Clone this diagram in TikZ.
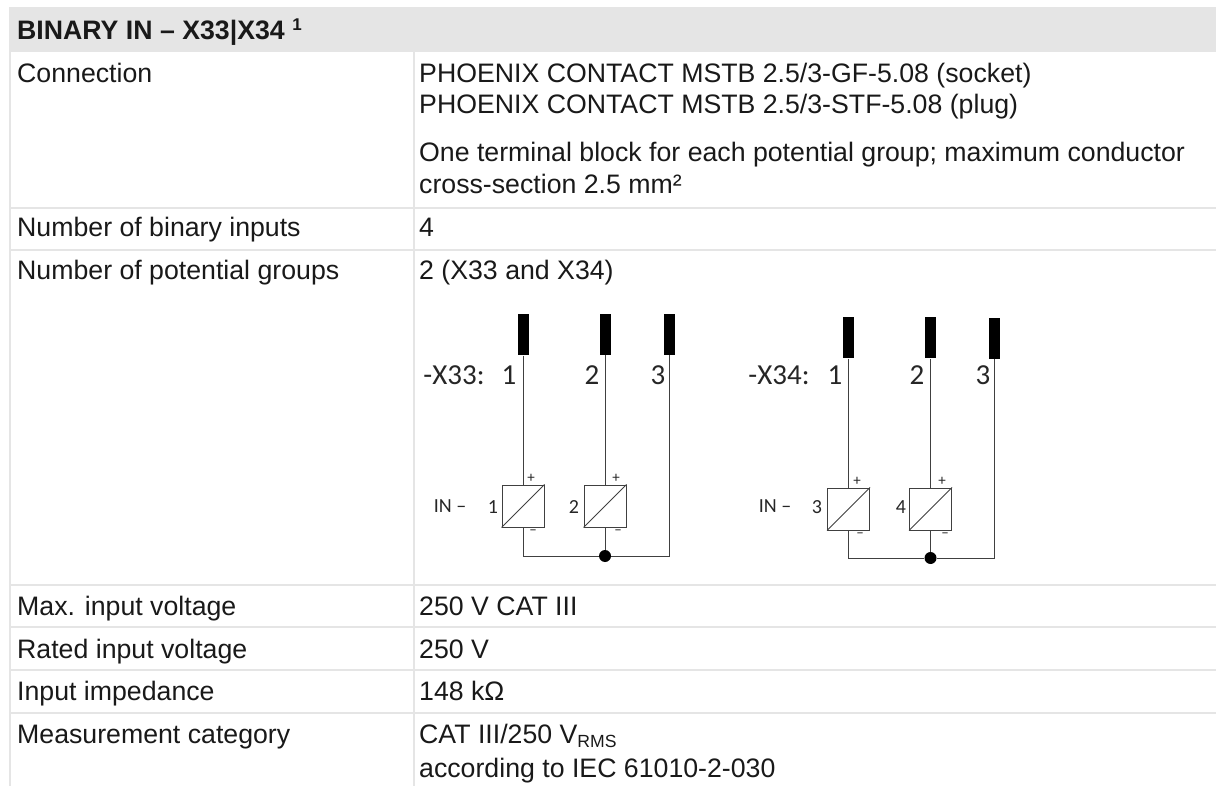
\documentclass[tikz,border=0pt]{standalone}
\usepackage{fontspec}
\setmainfont{Liberation Sans}
\newfontfamily\schemfont{Carlito}
\tikzset{
  txt/.style={anchor=base west, inner sep=0, yshift=-1pt, font=\fontsize{26.7}{30}\selectfont, text=black!90},
  grid/.style={draw=black!10, line width=2},
  contact/.style={fill=black, inner sep=0, minimum width=11, minimum height=41},
  wire/.style={draw=black!75, line width=1},
  inbox/.style={draw=black!75, line width=1, inner sep=0, minimum size=42},
  junction/.style={circle, fill=black, inner sep=0, minimum size=12},
  pin/.style={font=\schemfont\fontsize{29}{29}\selectfont, inner sep=0, text=black!85},
  small/.style={font=\schemfont\fontsize{20}{20}\selectfont, inner sep=0, text=black!85},
  sign/.style={font=\schemfont\fontsize{15}{15}\selectfont, inner sep=0, text=black!85}
}
\begin{document}
\begin{tikzpicture}[x=1pt, y=-1pt]
\useasboundingbox (0, 0) rectangle (1216, 786);
\fill[black!10] (9, 7) rectangle (1216, 52);
\draw[grid] (10, 52) -- (10, 786);
\draw[grid] (414, 52) -- (414, 786);
\draw[grid] (10, 208) -- (1216, 208);
\draw[grid] (10, 250) -- (1216, 250);
\draw[grid] (10, 585) -- (1216, 585);
\draw[grid] (10, 627) -- (1216, 627);
\draw[grid] (10, 670) -- (1216, 670);
\draw[grid] (10, 713) -- (1216, 713);

\node[txt, font=\bfseries\fontsize{26.7}{30}\selectfont] (title) at (17, 39) {BINARY IN – X33|X34 \raisebox{9pt}{\fontsize{17}{17}\selectfont 1}};
\node[txt] (conn) at (17, 82) {Connection};
\node[txt] (socket) at (419, 82) {PHOENIX CONTACT MSTB 2.5/3-GF-5.08 (socket)};
\node[txt] (plug) at (419, 113) {PHOENIX CONTACT MSTB 2.5/3-STF-5.08 (plug)};
\node[txt] (block) at (419, 161) {One terminal block for each potential group; maximum conductor};
\node[txt] (cross) at (419, 193) {cross-section 2.5 mm²};
\node[txt] (numin) at (17, 236) {Number of binary inputs};
\node[txt] (numinval) at (419, 236) {4};
\node[txt] (numgr) at (17, 279) {Number of potential groups};
\node[txt] (numgrval) at (419, 279) {2 (X33 and X34)};
\node[txt] (maxv) at (17, 614) {Max. input voltage};
\node[txt] (maxvval) at (419, 614) {250 V CAT III};
\node[txt] (ratedv) at (17, 657) {Rated input voltage};
\node[txt] (ratedvval) at (419, 657) {250 V};
\node[txt] (imp) at (17, 699) {Input impedance};
\node[txt] (impval) at (419, 699) {148 kΩ};
\node[txt] (meas) at (17, 742) {Measurement category};
\node[txt] (measval) at (419, 742) {CAT III/250 V\raisebox{-4pt}{\fontsize{17.6}{18}\selectfont RMS}};
\node[txt] (iec) at (419, 776) {according to IEC 61010-2-030};

\node[contact] (a1) at (523, 335) {};
\node[contact] (a2) at (605, 334.5) {};
\node[contact] (a3) at (669.5, 334.5) {};
\node[inbox] (ain1) at (523, 506) {};
\node[inbox] (ain2) at (605, 506) {};
\node[junction] (adot) at (605, 556) {};
\draw[wire] (a1.south) -- (ain1.north);
\draw[wire] (a2.south) -- (ain2.north);
\draw[wire] (ain1.south) |- (adot);
\draw[wire] (ain2.south) -- (adot);
\draw[wire] (a3.south) |- (adot);
\draw[wire] (ain1.south west) -- (ain1.north east);
\draw[wire] (ain2.south west) -- (ain2.north east);
\node[pin] (alabel) at (454, 375) {-X33:};
\node[pin] (ap1) at (509, 375) {1};
\node[pin] (ap2) at (592, 375) {2};
\node[pin] (ap3) at (658, 375) {3};
\node[small] (ain) at (450, 506) {IN –};
\node[small] (an1) at (493, 507) {1};
\node[small] (an2) at (574, 507) {2};
\node[sign] at (531, 478) {+};
\node[sign] at (533, 532) {–};
\node[sign] at (616, 478) {+};
\node[sign] at (618, 532) {–};

\node[contact] (b1) at (848.5, 338) {};
\node[contact] (b2) at (930.5, 338) {};
\node[contact] (b3) at (994.5, 338.5) {};
\node[inbox] (bin1) at (848.5, 509) {};
\node[inbox] (bin2) at (930.5, 509) {};
\node[junction] (bdot) at (930.5, 558) {};
\draw[wire] (b1.south) -- (bin1.north);
\draw[wire] (b2.south) -- (bin2.north);
\draw[wire] (bin1.south) |- (bdot);
\draw[wire] (bin2.south) -- (bdot);
\draw[wire] (b3.south) |- (bdot);
\draw[wire] (bin1.south west) -- (bin1.north east);
\draw[wire] (bin2.south west) -- (bin2.north east);
\node[pin] (blabel) at (779, 375) {-X34:};
\node[pin] (bp1) at (835, 375) {1};
\node[pin] (bp2) at (917, 375) {2};
\node[pin] (bp3) at (983, 375) {3};
\node[small] (bin) at (775, 506) {IN –};
\node[small] (bn3) at (817, 507) {3};
\node[small] (bn4) at (901, 507) {4};
\node[sign] at (857, 481) {+};
\node[sign] at (860, 535) {–};
\node[sign] at (942, 481) {+};
\node[sign] at (945, 535) {–};
\end{tikzpicture}
\end{document}
